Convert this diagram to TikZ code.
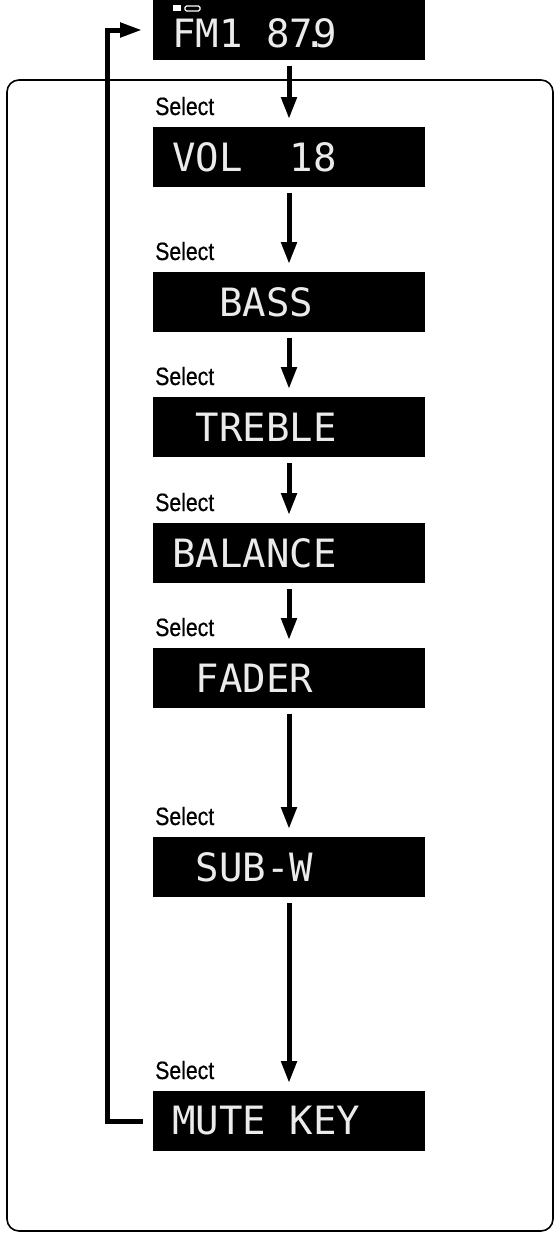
\documentclass[tikz,border=0pt]{standalone}
\usepackage{fontspec}
\setmainfont{Liberation Sans}
\newfontfamily\lcdfont{DejaVu Sans Mono}
\newfontfamily\selfont[FakeBold=0.6]{Liberation Sans}
\usetikzlibrary{arrows.meta}
\tikzset{
  lcdbox/.style={fill=black, draw=none, minimum width=272pt, minimum height=60pt, inner sep=0pt, outer sep=0pt},
  lcdtext/.style={text=white!92!black, inner sep=0pt, anchor=west, font=\lcdfont\fontsize{39}{39}\selectfont},
  selectlbl/.style={inner sep=0pt, anchor=base west, font=\selfont\fontsize{25}{25}\selectfont},
  flowarrow/.style={line width=5pt, -{Triangle[width=15pt,length=22pt]}},
  loopline/.style={line width=5pt, line join=miter},
  frameline/.style={line width=1.6pt, rounded corners=12pt}
}
\newcommand{\sellabel}[1]{\scalebox{0.85}[1]{#1}}
\begin{document}
\begin{tikzpicture}[x=1pt,y=-1pt]
\useasboundingbox (0,0) rectangle (556,1240);
% frame
\draw[frameline] (7,80) rectangle (553,1231);
% display boxes
\node[lcdbox] (fm) at (289,30) {};
\node[lcdbox] (vol) at (289,157) {};
\node[lcdbox] (bass) at (289,302) {};
\node[lcdbox] (treble) at (289,427) {};
\node[lcdbox] (balance) at (289,553) {};
\node[lcdbox] (fader) at (289,678) {};
\node[lcdbox] (subw) at (289,867) {};
\node[lcdbox] (mute) at (289,1121) {};
% display texts
\node[lcdtext] (tfm) at (172,33) {FM1 87\kern-0.25em.\kern-0.35em9};
\fill[white] (173,5) rectangle (181,11);
\draw[white, line width=1.2pt, rounded corners=1.5pt] (185,6) rectangle (200,11);
\node[lcdtext] (tvol) at (172,157) {VOL\ \ 18};
\node[lcdtext] (tbass) at (172,302) {\ \ BASS};
\node[lcdtext] (ttreble) at (172,427) {\ TREBLE};
\node[lcdtext] (tbalance) at (172,553) {BALANCE};
\node[lcdtext] (tfader) at (172,678) {\ FADER};
\node[lcdtext] (tsubw) at (172,867) {\ SUB-W};
\node[lcdtext] (tmute) at (172,1121) {MUTE KEY};
% select labels
\node[selectlbl] (s1) at ([xshift=2pt,yshift=12pt]vol.north west) {\sellabel{Select}};
\node[selectlbl] (s2) at ([xshift=2pt,yshift=12pt]bass.north west) {\sellabel{Select}};
\node[selectlbl] (s3) at ([xshift=2pt,yshift=12pt]treble.north west) {\sellabel{Select}};
\node[selectlbl] (s4) at ([xshift=2pt,yshift=12pt]balance.north west) {\sellabel{Select}};
\node[selectlbl] (s5) at ([xshift=2pt,yshift=12pt]fader.north west) {\sellabel{Select}};
\node[selectlbl] (s6) at ([xshift=2pt,yshift=12pt]subw.north west) {\sellabel{Select}};
\node[selectlbl] (s7) at ([xshift=2pt,yshift=12pt]mute.north west) {\sellabel{Select}};
% arrows
\draw[flowarrow] ([yshift=-6pt]fm.south) -- ([yshift=8pt]vol.north);
\draw[flowarrow] ([yshift=-6pt]vol.south) -- ([yshift=8pt]bass.north);
\draw[flowarrow] ([yshift=-6pt]bass.south) -- ([yshift=8pt]treble.north);
\draw[flowarrow] ([yshift=-6pt]treble.south) -- ([yshift=8pt]balance.north);
\draw[flowarrow] ([yshift=-6pt]balance.south) -- ([yshift=8pt]fader.north);
\draw[flowarrow] ([yshift=-6pt]fader.south) -- ([yshift=8pt]subw.north);
\draw[flowarrow] ([yshift=-6pt]subw.south) -- ([yshift=8pt]mute.north);
% return loop
\coordinate (loopstart) at ([xshift=-10pt]mute.west);
\coordinate (loopend) at ([xshift=-11pt]fm.west);
\draw[loopline, -{Triangle[width=14pt,length=22pt]}] (loopstart) -| ([xshift=-46pt]fm.west) -- (loopend);
\end{tikzpicture}
\end{document}
